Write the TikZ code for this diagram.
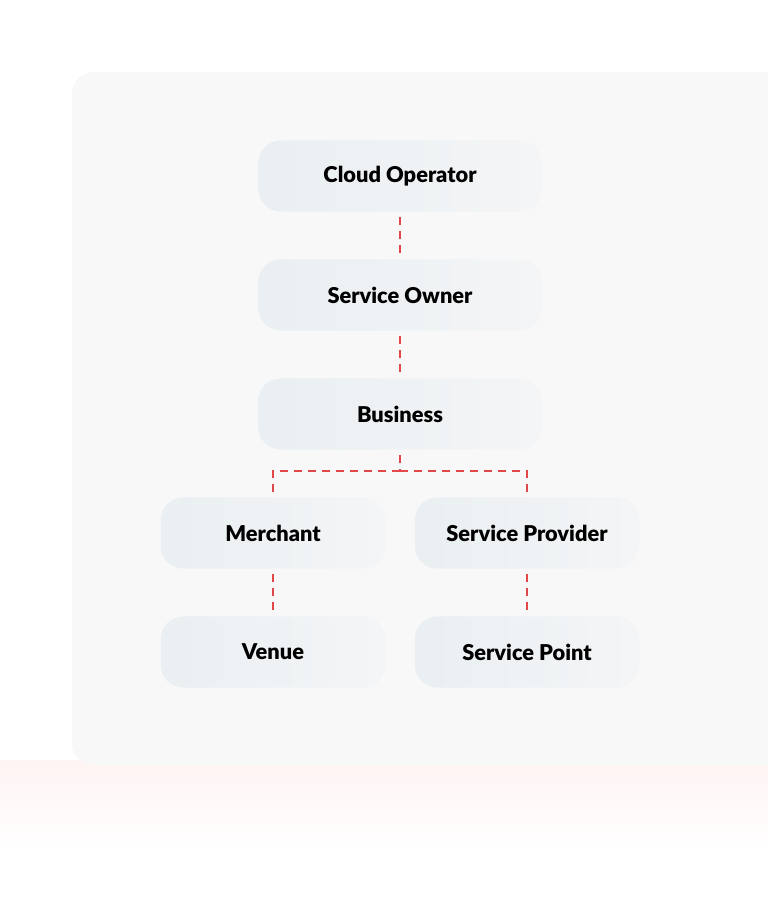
\documentclass[tikz,border=0pt]{standalone}
\usepackage{fontspec}
\setmainfont{Lato}[BoldFont={Lato Black}]
\usetikzlibrary{positioning}
\definecolor{panelgray}{HTML}{F8F8F8}
\definecolor{boxleft}{HTML}{E9EFF2}
\definecolor{boxright}{HTML}{F4F5F6}
\definecolor{linkred}{HTML}{E2474A}
\definecolor{glowpink}{HTML}{FEF4F3}
\tikzset{
  role/.style={rounded corners=0.55cm, left color=boxleft, right color=boxright,
    minimum height=1.775cm, font=\fontsize{15.5}{18}\selectfont\bfseries, text=black},
  bigrole/.style={role, minimum width=7.075cm},
  smallrole/.style={role, minimum width=5.6cm},
  link/.style={draw=linkred, line width=0.75pt, dash pattern=on 0.2cm off 0.15cm},
}
\begin{document}
\begin{tikzpicture}[x=0.025cm, y=-0.025cm]
    \useasboundingbox (0,0) rectangle (768,901);
    %sfondo
    \fill[white] (0,0) rectangle (768,901);
    \shade[top color=glowpink, bottom color=white] (0,760) rectangle (768,850);
    \fill[panelgray, rounded corners=0.55cm] (72,72) rectangle (790,765);
    
    %ruoli
    \node[bigrole] (cloud) at (400,176) {Cloud Operator};
    \node[bigrole] (owner) at (400,295) {Service Owner};
    \node[bigrole] (biz) at (400,414) {Business};
    \node[smallrole] (merch) at (273,533) {Merchant};
    \node[smallrole] (prov) at (527,533) {Service Provider};
    \node[smallrole] (venue) at (273,652) {Venue};
    \node[smallrole] (point) at (527,652) {Service Point};
    
    %collegamenti
    \coordinate (fork) at (400,471);
    \draw[link, shorten <=4pt, shorten >=4pt] (cloud) -- (owner);
    \draw[link, shorten <=4pt, shorten >=4pt] (owner) -- (biz);
    \draw[link, shorten <=4pt] (biz) -- (fork);
    \draw[link, shorten >=4pt] (fork) -| (merch.north);
    \draw[link, shorten >=4pt] (fork) -| (prov.north);
    \draw[link, shorten <=4pt, shorten >=4pt] (merch) -- (venue);
    \draw[link, shorten <=4pt, shorten >=4pt] (prov) -- (point);
    
\end{tikzpicture}
\end{document}
